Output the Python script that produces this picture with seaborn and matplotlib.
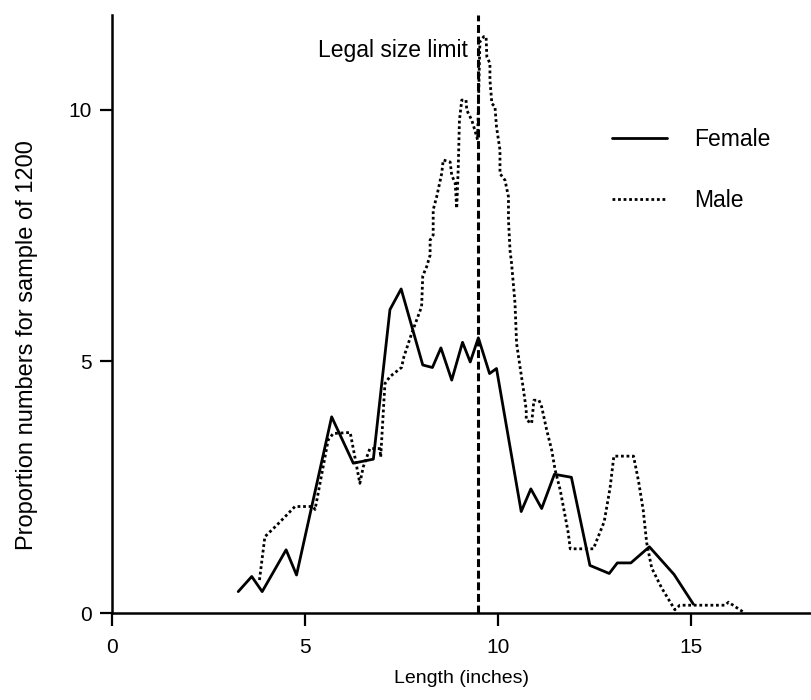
import matplotlib
matplotlib.use("Agg")
import matplotlib.pyplot as plt
import seaborn as sns

# 体長分布（1200尾あたりの割合）
female_x = [3.26, 3.61, 3.88, 4.50, 4.77, 5.68, 6.24, 6.76, 7.19, 7.48, 8.04, 8.29,
            8.51, 8.79, 9.07, 9.27, 9.48, 9.77, 9.95, 10.59, 10.84, 11.12, 11.45,
            11.89, 12.37, 12.87, 13.08, 13.43, 13.91, 14.55, 15.05]
female_y = [0.43, 0.73, 0.43, 1.26, 0.76, 3.90, 2.98, 3.06, 6.03, 6.44, 4.93, 4.88,
            5.27, 4.63, 5.38, 4.99, 5.47, 4.76, 4.86, 2.02, 2.47, 2.08, 2.76,
            2.70, 0.95, 0.79, 1.00, 1.00, 1.32, 0.77, 0.18]

male_x = [3.81, 3.95, 4.26, 4.73, 5.20, 5.25, 5.59, 5.72, 6.16, 6.28, 6.41, 6.50,
          6.67, 6.93, 6.95, 7.06, 7.19, 7.49, 7.55, 7.75, 8.01, 8.04, 8.14, 8.23,
          8.23, 8.31, 8.31, 8.40, 8.53, 8.57, 8.75, 8.79, 8.88, 8.92, 8.96, 8.99,
          9.05, 9.16, 9.18, 9.31, 9.39, 9.46, 9.52, 9.62, 9.68, 9.70, 9.78, 9.78,
          9.83, 9.91, 9.95, 10.04, 10.04, 10.17, 10.26, 10.26, 10.30, 10.34, 10.43,
          10.47, 10.56, 10.65, 10.72, 10.72, 10.86, 10.92, 11.05, 11.12, 11.25,
          11.38, 11.47, 11.60, 11.73, 11.81, 11.86, 12.46, 12.74, 12.89, 12.99,
          13.50, 13.63, 13.75, 13.84, 13.97, 14.23, 14.57, 14.70, 15.87, 15.96,
          16.39]
male_y = [0.66, 1.52, 1.75, 2.12, 2.12, 2.06, 3.44, 3.57, 3.59, 3.11, 2.58, 2.91,
          3.27, 3.27, 3.10, 4.56, 4.70, 4.88, 5.09, 5.55, 6.09, 6.70, 6.88, 7.11,
          7.41, 7.51, 8.01, 8.27, 8.73, 9.00, 8.96, 8.70, 8.54, 8.04, 8.87, 9.79,
          10.19, 10.19, 9.99, 9.79, 9.59, 9.40, 11.35, 11.45, 11.45, 11.05, 10.92,
          10.59, 10.12, 10.06, 9.66, 9.20, 8.73, 8.60, 8.27, 7.81, 7.21, 6.95, 6.15,
          5.36, 4.89, 4.43, 4.04, 3.84, 3.77, 4.23, 4.23, 4.10, 3.64,
          3.24, 2.84, 2.45, 1.92, 1.59, 1.28, 1.28, 1.82, 2.48, 3.12,
          3.12, 2.62, 2.05, 1.40, 0.90, 0.50, 0.07, 0.16, 0.16, 0.22,
          0.00]

legal_limit = 9.47
x_ticks = [0, 5, 10, 15]
y_ticks = [0, 5, 10]

sns.set_style("ticks", {'axes.edgecolor': 'black', 'text.color': 'black',
                        'axes.labelcolor': 'black', 'xtick.color': 'black',
                        'ytick.color': 'black'})
plt.rcParams['font.family'] = ['Liberation Sans', 'DejaVu Sans']

fig = plt.figure(figsize=(8.12, 7.0), dpi=100)
ax = fig.add_axes([0.1384, 0.1239, 0.8591, 0.8547])

sns.lineplot(x=female_x, y=female_y, ax=ax, color='black', lw=2.0,
             sort=False, estimator=None, label='Female')
sns.lineplot(x=male_x, y=male_y, ax=ax, color='black', lw=2.0,
             sort=False, estimator=None, label='Male', dashes=False)
ax.lines[1].set_dashes((1, 1))
ax.lines[1].set_dash_capstyle('butt')

# 法定サイズの縦線
ax.axvline(legal_limit, color='black', lw=2.2, dashes=(2.6, 1.2))
ax.text(legal_limit - 0.27, 11.18, 'Legal size limit', ha='right', va='center',
        fontsize=16.5, color='black')

ax.set_xlim(0, 18.07)
ax.set_ylim(0, 11.88)
ax.set_xticks(x_ticks)
ax.set_yticks(y_ticks)
ax.tick_params(axis='x', length=9, width=1.6, pad=9, labelsize=15, colors='black')
ax.tick_params(axis='y', length=9, width=1.6, pad=6, labelsize=15, colors='black')
for s in ['left', 'bottom']:
    ax.spines[s].set_linewidth(1.8)
    ax.spines[s].set_color('black')
sns.despine(ax=ax)

ax.set_xlabel('Length (inches)', fontsize=14, labelpad=9, color='black')
ax.set_ylabel('Proportion numbers for sample of 1200', fontsize=17, color='black',
              family=['Liberation Sans Narrow', 'Liberation Sans'])
ax.yaxis.set_label_coords(-0.107, 0.448)

leg = ax.legend(frameon=False, loc='upper left', bbox_to_anchor=(0.686, 0.846),
                handlelength=2.4, handletextpad=1.2, labelspacing=1.65, fontsize=16.5)
for line in leg.get_lines():
    line.set_linewidth(2.0)
leg.get_lines()[1].set_dashes((1, 1))
for t in leg.get_texts():
    t.set_color('black')

fig.savefig('out.png', dpi=100)
